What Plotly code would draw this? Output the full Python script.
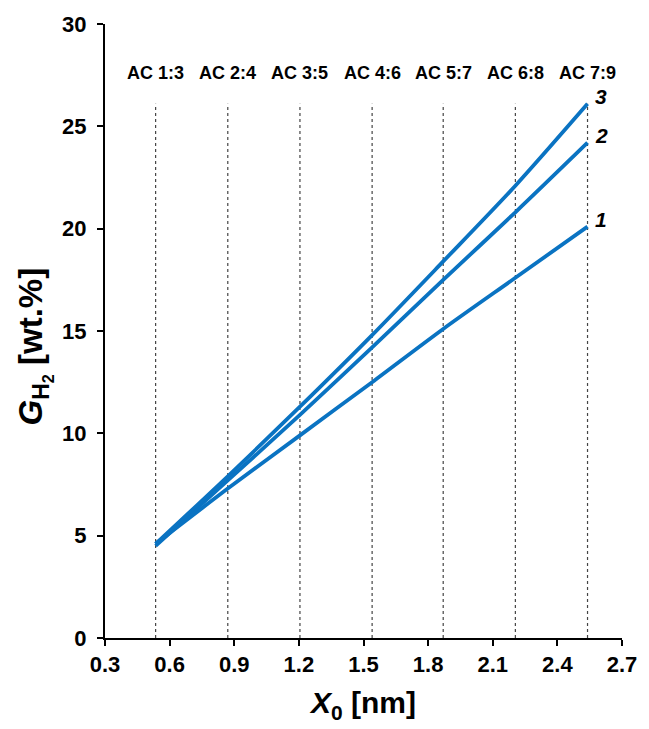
import plotly.graph_objects as go

# Data
x_nm = [0.535, 0.87, 1.205, 1.54, 1.87, 2.205, 2.54]
ac_labels = ["AC 1:3", "AC 2:4", "AC 3:5", "AC 4:6", "AC 5:7", "AC 6:8", "AC 7:9"]
series_1 = [4.6, 7.3, 9.9, 12.5, 15.1, 17.6, 20.1]
series_2 = [4.5, 7.7, 10.9, 14.2, 17.5, 20.8, 24.2]
series_3 = [4.6, 7.9, 11.3, 14.8, 18.4, 22.1, 26.1]
series_names = ["1", "2", "3"]
x_ticks = [0.3, 0.6, 0.9, 1.2, 1.5, 1.8, 2.1, 2.4, 2.7]
y_ticks = [0, 5, 10, 15, 20, 25, 30]
guide_top = 26.1
label_y = 27.6

FONT = "Liberation Sans, Arial, sans-serif"
BLUE = "#0A73C2"

fig = go.Figure()

# dotted guide lines
for xv in x_nm:
    fig.add_trace(go.Scatter(x=[xv, xv], y=[0, guide_top], mode="lines",
                             line=dict(color="#444444", width=1.2, dash="dot"),
                             hoverinfo="skip", showlegend=False))

for name, ys in zip(series_names, [series_1, series_2, series_3]):
    fig.add_trace(go.Scatter(x=x_nm, y=ys, mode="lines", name=name,
                             line=dict(color=BLUE, width=3.8, shape="spline", smoothing=0.8),
                             showlegend=False))
    fig.add_annotation(x=x_nm[-1], y=ys[-1], text="<b><i>" + name + "</i></b>",
                       showarrow=False, xanchor="left", yanchor="bottom",
                       xshift=5, yshift=-6,
                       font=dict(family=FONT, size=21, color="black"))

for xv, lab in zip(x_nm, ac_labels):
    fig.add_annotation(x=xv, y=label_y, text="<b>" + lab + "</b>", showarrow=False,
                       font=dict(family=FONT, size=18, color="black"))

# y-axis title placed as a rotated annotation
fig.add_annotation(xref="paper", yref="paper", x=-0.137, y=0.475,
                   text="<b><i>G</i><sub>H<sub>2</sub></sub> [wt.%]</b>",
                   textangle=-90, showarrow=False, xanchor="center", yanchor="middle",
                   font=dict(family=FONT, size=33, color="black"))

fig.update_layout(
    width=649, height=729,
    margin=dict(l=105, r=19, t=21, b=91),
    paper_bgcolor="white", plot_bgcolor="white",
    font=dict(family=FONT, color="black"),
)
fig.update_xaxes(range=[0.3, 2.7], tickvals=x_ticks,
                 ticktext=["<b>%.1f</b>" % v for v in x_ticks],
                 showgrid=False, zeroline=False,
                 showline=True, linecolor="black", linewidth=2,
                 ticks="outside", ticklen=6, tickwidth=2, tickcolor="black",
                 tickfont=dict(family=FONT, size=22, color="black"),
                 title=dict(text="<b><i>X</i><sub>0</sub> [nm]</b>",
                            font=dict(family=FONT, size=30), standoff=16))
fig.update_yaxes(range=[0, 30], tickvals=y_ticks,
                 ticktext=["<b>%d</b>" % v for v in y_ticks],
                 showgrid=False, zeroline=False,
                 showline=True, linecolor="black", linewidth=2,
                 ticks="outside", ticklen=6, tickwidth=2, tickcolor="black",
                 ticklabelstandoff=6,
                 tickfont=dict(family=FONT, size=22, color="black"))

fig.write_html("out.html")
